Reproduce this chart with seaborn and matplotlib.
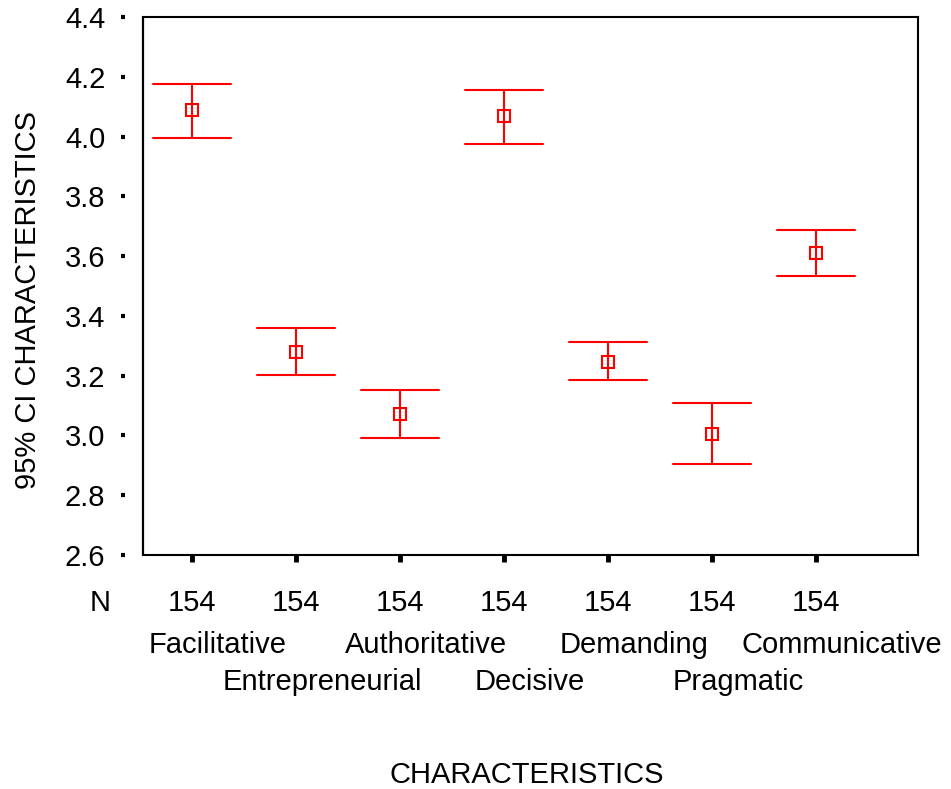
import pandas as pd
import numpy as np
import matplotlib.pyplot as plt
import matplotlib.transforms as mtransforms
import seaborn as sns

# values
categories = ["Facilitative", "Entrepreneurial", "Authoritative", "Decisive",
              "Demanding", "Pragmatic", "Communicative"]
means = [4.089, 3.280, 3.072, 4.069, 3.246, 3.005, 3.611]
lower = [3.995, 3.203, 2.992, 3.975, 3.186, 2.905, 3.534]
upper = [4.176, 3.360, 3.152, 4.156, 3.313, 3.109, 3.688]
n_counts = [154, 154, 154, 154, 154, 154, 154]
yticks = [2.6, 2.8, 3.0, 3.2, 3.4, 3.6, 3.8, 4.0, 4.2, 4.4]

# long form: median of (lower, mean, upper) is the mean, 100% interval spans lower..upper
rows = []
for c, lo, m, hi in zip(categories, lower, means, upper):
    for v in (lo, m, hi):
        rows.append({"cat": c, "val": v})
df = pd.DataFrame(rows)

sns.set_theme(style="white")
plt.rcParams['font.family'] = ['Liberation Sans', 'DejaVu Sans']
plt.rcParams['text.color'] = 'black'
plt.rcParams['xtick.color'] = 'black'
plt.rcParams['ytick.color'] = 'black'
plt.rcParams['axes.labelcolor'] = 'black'

FS = 21

fig = plt.figure(figsize=(9.51, 7.89), dpi=100)
ax = fig.add_axes([143 / 951, 1 - 555 / 789, 775 / 951, 538 / 789])

sns.pointplot(data=df, x="cat", y="val", order=categories,
              estimator="median", errorbar=("pi", 100),
              color="#ff0000", linestyle="none", marker="s",
              markersize=8.5, markerfacecolor="none", markeredgewidth=1.5,
              capsize=0.75, err_kws={"linewidth": 1.5}, ax=ax)

ax.set_xlim(-0.47, 6.98)
ax.set_ylim(2.6, 4.4)
ax.set_xlabel("")
ax.set_ylabel("")

for s in ax.spines.values():
    s.set_color("black")
    s.set_linewidth(1.5)
# SPSS draws the y tick marks detached from the frame
ax.spines["left"].set_position(("outward", 13))
ax.spines["left"].set_visible(False)
ax.axvline(ax.get_xlim()[0], color="black", linewidth=1.6, clip_on=False)

ax.set_yticks(yticks)
ax.set_yticklabels([f"{t:.1f}" for t in yticks])
ax.set_xticks(range(len(categories)))
ax.set_xticklabels([])
ax.tick_params(axis="y", direction="out", length=3, width=3, pad=11,
               left=True, color="black", labelsize=FS, labelcolor="black")
ax.tick_params(axis="x", direction="out", length=5, width=3.5, bottom=True,
               color="black")

trans = ax.get_xaxis_transform()
# category names sit a little right of their tick in the original
name_trans = trans + mtransforms.ScaledTranslation(26 / 100, 0, fig.dpi_scale_trans)
ax.text(-0.055, -0.089, "N", transform=ax.transAxes, ha="center", va="center",
        fontsize=FS)
for i, (c, n) in enumerate(zip(categories, n_counts)):
    ax.text(i, -0.089, str(n), transform=trans, ha="center", va="center", fontsize=FS)
    ypos = -0.167 if i % 2 == 0 else -0.236
    ax.text(i, ypos, c, transform=name_trans, ha="center", va="center", fontsize=FS)

fig.text(527 / 951, 1 - 775 / 789, "CHARACTERISTICS", ha="center", va="center",
         fontsize=FS)
fig.text(28 / 951, 1 - 300 / 789, "95% CI CHARACTERISTICS", ha="center",
         va="center", rotation=90, fontsize=FS)

fig.savefig("out.png", dpi=100)
